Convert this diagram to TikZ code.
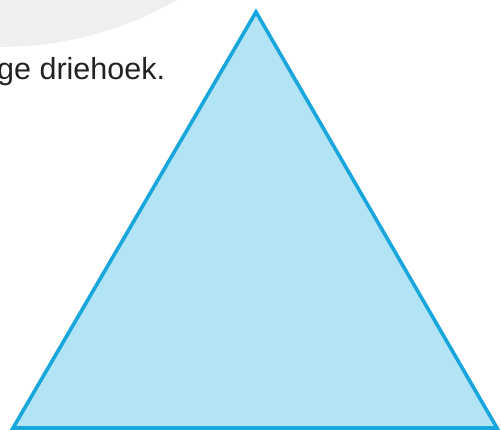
\documentclass[tikz,border=0pt]{standalone}
\usepackage{fontspec}
\setmainfont{Liberation Sans}
\usepackage{xcolor}
\usetikzlibrary{positioning}
\definecolor{vlak}{HTML}{B2E4F6}
\definecolor{rand}{HTML}{18A6DC}
\definecolor{grijs}{HTML}{EFEFEF}
\definecolor{tekst}{HTML}{222222}
\tikzset{
  driehoek/.style={draw=rand, fill=vlak, line width=3.6pt, line join=miter},
  achtergrond/.style={fill=grijs, draw=none},
  opdracht/.style={anchor=base west, inner sep=0pt, text=tekst, font=\fontsize{30.5}{36}\selectfont},
}

\begin{document}
\begin{tikzpicture}[x=1pt, y=-1pt]
  \useasboundingbox (0,0) rectangle (501,430);
  \clip (0,0) rectangle (501,430);
  % grijze boog linksboven
  \fill[achtergrond] (0,-310) circle[radius=357];
  \node[opdracht] (zin) at (-3,80) {ge driehoek.};
  % de driehoek
  \coordinate (top) at (256,12);
  \coordinate (links) at (13,428);
  \coordinate (rechts) at (497,428);
  \draw[driehoek] (links) -- (top) -- (rechts) -- cycle;
\end{tikzpicture}
\end{document}
